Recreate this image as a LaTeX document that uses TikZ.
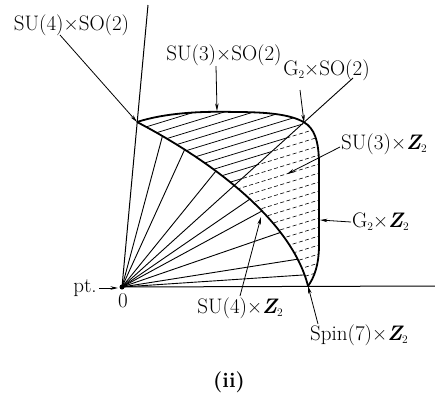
\documentclass[tikz,border=0pt]{standalone}
\usepackage{fontspec}
\usetikzlibrary{arrows.meta}
\newcommand\sbt[1]{\raisebox{-0.35ex}{\fontsize{11.5}{12}\selectfont #1}}
\newcommand\bZ{{\bfseries\itshape Z}}
\begin{document}
\begin{tikzpicture}[x=1pt,y=-1pt,
  lbl/.style={inner sep=0pt,font=\fontsize{21}{24}\selectfont},
  bnd/.style={line width=1.8pt},
  axis/.style={line width=1pt},
  ray/.style={line width=0.9pt},
  hatch/.style={line width=0.75pt},
  hatchd/.style={line width=0.6pt,dash pattern=on 4pt off 2.5pt},
  lead/.style={line width=0.8pt,-{Stealth[length=7.5pt,width=3.5pt]}}]
\useasboundingbox (0,0) rectangle (435,400);
\coordinate (O) at (122,287);
\coordinate (A) at (137,122);
\coordinate (B) at (304,122.3);
\coordinate (C) at (308,286);
\coordinate (Ytop) at (148,5);
\coordinate (Xend) at (435,286);
\coordinate (Bext) at (353,78);
% hatching
\begin{scope}
  \clip (A) .. controls (165,113) and (200,111) .. (235,112) .. controls (265,112) and (290,114) .. (B)
     .. controls (314,128) and (319,140) .. (319,165) -- (319,245) .. controls (319,265) and (314,278) .. (C)
     .. controls (290,215) and (200,155) .. (A) -- cycle;
  \begin{scope}
    \clip (122,287) -- (440,-1) -- (0,-1) -- (0,287) -- cycle;
    \foreach \k in {0,...,32} \draw[hatch] (100,{105+9*\k}) -- ++(240,-73.4);
  \end{scope}
  \begin{scope}
    \clip (122,287) -- (440,-1) -- (440,400) -- (122,400) -- cycle;
    \foreach \k in {0,...,32} \draw[hatchd] (100,{105+9*\k}) -- ++(240,-73.4);
  \end{scope}
\end{scope}
% fan of rays
\begin{scope}
  \clip (O) -- (A) .. controls (200,155) and (290,215) .. (C) -- cycle;
  \foreach \a in {75,65.5,51,34.5,28.5,19,9,3.8} \draw[ray] (O) -- ++(-\a:400);
\end{scope}
\draw[ray] (O) -- (Bext);
% axes
\draw[axis] (O) -- (Ytop);
\draw[axis] (O) -- (Xend);
\fill (O) circle (2.5);
% boundaries
\draw[bnd] (A) .. controls (165,113) and (200,111) .. (235,112) .. controls (265,112) and (290,114) .. (B)
     .. controls (314,128) and (319,140) .. (319,165) -- (319,245) .. controls (319,265) and (314,278) .. (C);
\draw[bnd] (A) .. controls (200,155) and (290,215) .. (C);
% labels
\node[lbl] (l1) at (71.5,25) {SU(4)×SO(2)};
\node[lbl] (l2) at (224,55) {SU(3)×SO(2)};
\node[lbl] (l3) at (326.5,70.5) {G\sbt{2}×SO(2)};
\node[lbl,anchor=west] (l4) at (341,144) {SU(3)×\bZ\sbt{2}};
\node[lbl,anchor=west] (l5) at (352,222) {G\sbt{2}×\bZ\sbt{2}};
\node[lbl] (l6) at (240,308) {SU(4)×\bZ\sbt{2}};
\node[lbl,anchor=west] (l7) at (310,335) {Spin(7)×\bZ\sbt{2}};
\node[lbl] (l8) at (85,288) {pt.};
\node[lbl] (l9) at (123,301) {0};
\node[lbl,font=\fontsize{21}{24}\selectfont\bfseries] (l10) at (229,382) {(ii)};
% leaders
\coordinate (s1) at (60,35);
\coordinate (s2) at (216,66);  \coordinate (e2) at (217,111);
\coordinate (s3) at (300,90);
\coordinate (s4) at (340,147); \coordinate (e4) at (287,174);
\coordinate (s5) at (351,222); \coordinate (e5) at (320,220);
\coordinate (s6) at (240,296); \coordinate (e6) at (261,217);
\coordinate (s7) at (318,324);
\coordinate (s8) at (99,288);  \coordinate (e8) at (118,288);
\draw[lead] (s1) -- (A);
\draw[lead] (s2) -- (e2);
\draw[lead] (s3) -- (B);
\draw[lead] (s4) -- (e4);
\draw[lead] (s5) -- (e5);
\draw[lead] (s6) -- (e6);
\draw[lead] (s7) -- (C);
\draw[lead] (s8) -- (e8);
\end{tikzpicture}
\end{document}
